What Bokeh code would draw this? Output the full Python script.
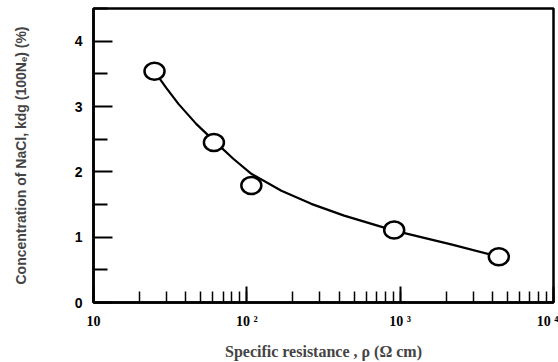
from bokeh.plotting import figure
from bokeh.models import Range1d, FixedTicker
from bokeh.embed import file_html
from bokeh.resources import INLINE

# Measured specific resistance (Ω cm) and NaCl concentration (%)
rho = [25, 61, 107, 914, 4400]
conc = [3.54, 2.45, 1.79, 1.11, 0.70]

# Hand-drawn trend curve through the measurements
curve_rho = [24.9, 29.9, 35.8, 46.9, 61.4, 81.6, 107, 168, 263, 431, 914, 2148, 4415]
curve_conc = [3.54, 3.28, 3.04, 2.73, 2.47, 2.20, 1.97, 1.71, 1.51, 1.33, 1.10, 0.89, 0.70]

x_ticks = [10, 100, 1000, 10000]
x_tick_labels = ["10", "10 ²", "10 ³", "10 ⁴"]
y_ticks = [0, 1, 2, 3, 4]

p = figure(width=558, height=362, x_axis_type="log",
           x_range=Range1d(10, 10000), y_range=Range1d(0, 4.5),
           output_backend="svg", toolbar_location=None,
           min_border_left=93, min_border_right=5,
           min_border_top=8, min_border_bottom=59)

p.background_fill_color = "white"
p.border_fill_color = "white"
p.outline_line_color = "black"
p.outline_line_width = 2.5
p.xgrid.visible = False
p.ygrid.visible = False

serif = "Liberation Serif"
sans = "Liberation Sans"

# x axis (logarithmic)
xa = p.xaxis[0]
xa.ticker.num_minor_ticks = 10
xa.major_label_overrides = {t: lab for t, lab in zip(x_ticks, x_tick_labels)}
xa.axis_line_width = 2.5
xa.major_tick_in = 16
xa.major_tick_out = 0
xa.minor_tick_in = 11
xa.minor_tick_out = 0
xa.major_tick_line_width = 2
xa.minor_tick_line_width = 1.5
xa.major_label_standoff = 11
xa.major_label_text_font = serif
xa.major_label_text_font_style = "bold"
xa.major_label_text_font_size = "14px"
xa.major_label_text_color = "black"
xa.axis_label = "Specific resistance , ρ (Ω cm)"
xa.axis_label_text_font = serif
xa.axis_label_text_font_style = "bold"
xa.axis_label_text_font_size = "16px"
xa.axis_label_standoff = 11

# y axis
ya = p.yaxis[0]
ya.ticker = FixedTicker(ticks=y_ticks, minor_ticks=[0.5, 1.5, 2.5, 3.5, 4.5])
ya.axis_line_width = 2.5
ya.major_tick_in = 19
ya.major_tick_out = 0
ya.minor_tick_in = 14
ya.minor_tick_out = 0
ya.major_tick_line_width = 2
ya.minor_tick_line_width = 2
ya.major_label_standoff = 11
ya.major_label_text_font = sans
ya.major_label_text_font_style = "bold"
ya.major_label_text_font_size = "14px"
ya.major_label_text_color = "black"
ya.axis_label = "Concentration of NaCl, kdg (100Nₑ) (%)"
ya.axis_label_text_font = sans
ya.axis_label_text_font_style = "bold"
ya.axis_label_text_font_size = "14px"
ya.axis_label_standoff = 43

p.line(curve_rho, curve_conc, line_color="black", line_width=2.2)
p.ellipse(rho, conc, width=20, height=17, width_units="screen", height_units="screen",
          fill_color="white", line_color="black", line_width=2.5)

open("out.html", "w").write(file_html(p, INLINE))
